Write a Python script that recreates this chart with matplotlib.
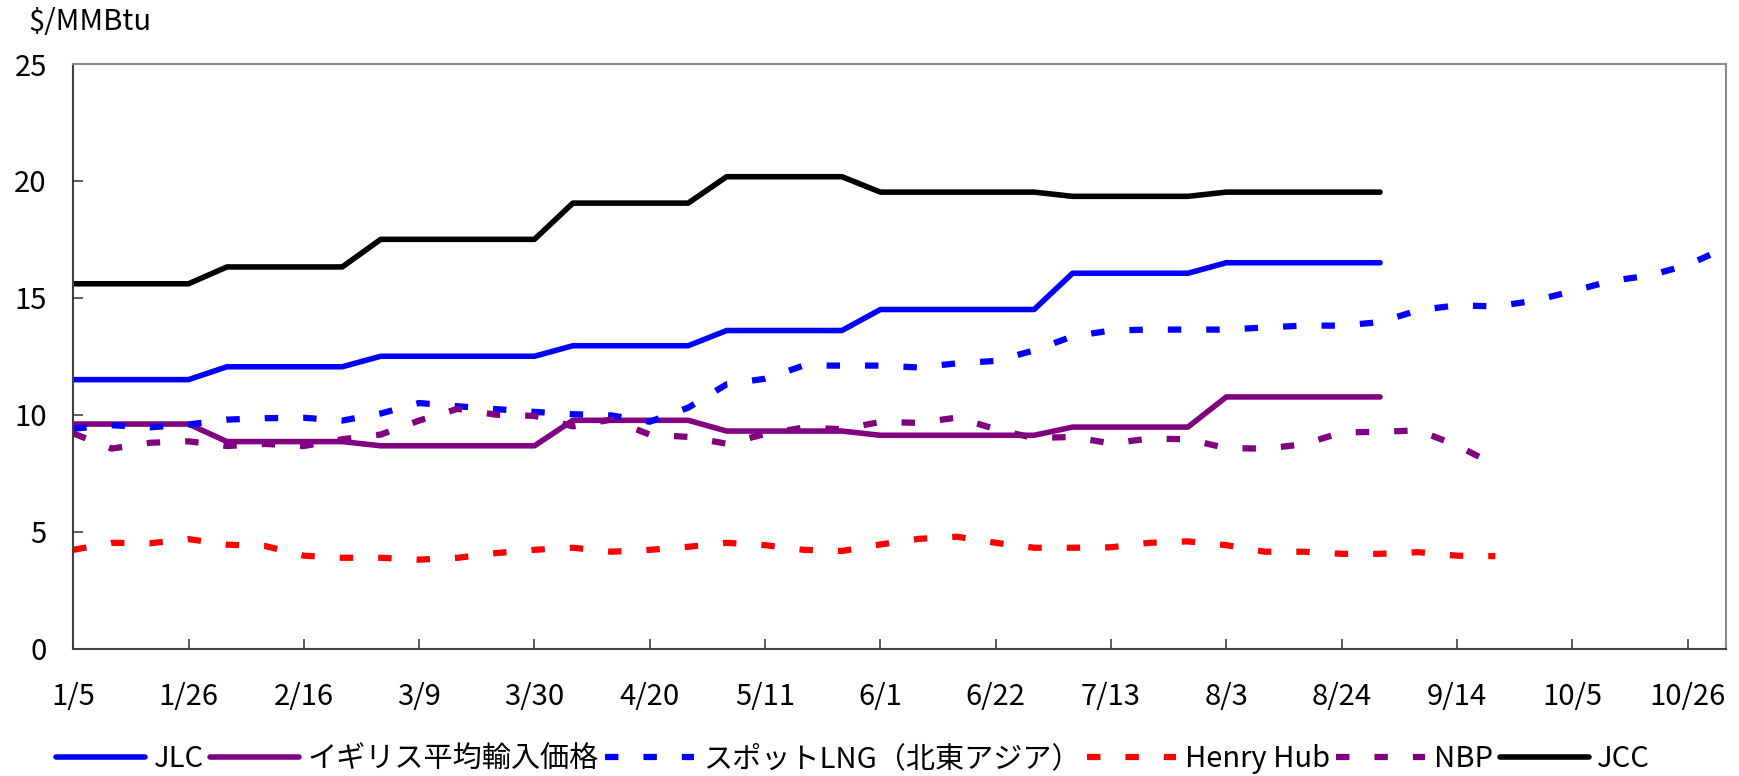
import matplotlib
matplotlib.use("Agg")
import numpy as np
import matplotlib.pyplot as plt

plt.rcParams['font.family'] = ['Noto Sans CJK JP', 'DejaVu Sans']

# x axis: weekly points from 1/5, labelled every 3 weeks
tick_labels = ["1/5", "1/26", "2/16", "3/9", "3/30", "4/20", "5/11", "6/1",
               "6/22", "7/13", "8/3", "8/24", "9/14", "10/5", "10/26"]
n_weeks = 44

# monthly-set prices (weekly points, 1/5 .. 8/31)
jlc = [11.5, 11.5, 11.5, 11.5,
       12.05, 12.05, 12.05, 12.05,
       12.5, 12.5, 12.5, 12.5, 12.5,
       12.95, 12.95, 12.95, 12.95,
       13.6, 13.6, 13.6, 13.6,
       14.5, 14.5, 14.5, 14.5, 14.5,
       16.05, 16.05, 16.05, 16.05,
       16.5, 16.5, 16.5, 16.5, 16.5]
uk_import = [9.6, 9.6, 9.6, 9.6,
             8.85, 8.85, 8.85, 8.85,
             8.67, 8.67, 8.67, 8.67, 8.67,
             9.76, 9.76, 9.76, 9.76,
             9.3, 9.3, 9.3, 9.3,
             9.12, 9.12, 9.12, 9.12, 9.12,
             9.47, 9.47, 9.47, 9.47,
             10.76, 10.76, 10.76, 10.76, 10.76]
jcc = [15.6, 15.6, 15.6, 15.6,
       16.32, 16.32, 16.32, 16.32,
       17.5, 17.5, 17.5, 17.5, 17.5,
       19.05, 19.05, 19.05, 19.05,
       20.18, 20.18, 20.18, 20.18,
       19.52, 19.52, 19.52, 19.52, 19.52,
       19.34, 19.34, 19.34, 19.34,
       19.52, 19.52, 19.52, 19.52, 19.52]

# weekly spot prices
spot_lng = [9.4, 9.55, 9.46, 9.58, 9.79, 9.85, 9.87, 9.75, 10.05, 10.5,
            10.36, 10.24, 10.12, 10.02, 9.97, 9.7, 10.3, 11.3, 11.54, 12.1,
            12.1, 12.1, 12.02, 12.2, 12.3, 12.75, 13.35, 13.6, 13.64, 13.64,
            13.64, 13.73, 13.81, 13.81, 13.96, 14.47, 14.68, 14.63, 14.87, 15.28,
            15.72, 15.95, 16.4, 17.15]
henry_hub = [4.22, 4.52, 4.5, 4.68, 4.44, 4.38, 3.97, 3.88, 3.88, 3.8,
             3.88, 4.08, 4.22, 4.31, 4.14, 4.22, 4.35, 4.52, 4.42, 4.22,
             4.17, 4.45, 4.69, 4.78, 4.52, 4.31, 4.31, 4.33, 4.52, 4.58,
             4.42, 4.14, 4.14, 4.05, 4.05, 4.12, 3.97, 3.95]
nbp = [9.2, 8.55, 8.8, 8.86, 8.66, 8.75, 8.66, 8.95, 9.15, 9.75,
       10.25, 10.0, 9.95, 9.5, 9.79, 9.15, 9.05, 8.76, 9.17, 9.45,
       9.38, 9.69, 9.65, 9.88, 9.38, 9.0, 9.05, 8.77, 8.98, 8.95,
       8.57, 8.55, 8.73, 9.24, 9.27, 9.33, 8.68, 7.85]

FS = 21
W, H = 1739, 776
fig = plt.figure(figsize=(W / 100, H / 100), dpi=100)
ax = fig.add_axes([73.2 / W, 1 - 648.5 / H, (1726 - 73.2) / W, (648.5 - 64) / H])

solid = dict(linewidth=4.0, solid_capstyle='round', solid_joinstyle='round')
dashed = dict(linewidth=4.5, dashes=(2.15, 4.0), dash_capstyle='butt')

series = [
    ("JLC", jlc, '#0000FF', solid),
    ("イギリス平均輸入価格", uk_import, '#800080', solid),
    ("スポットLNG（北東アジア）", spot_lng, '#0000FF', dashed),
    ("Henry Hub", henry_hub, '#FF0000', dashed),
    ("NBP", nbp, '#800080', dashed),
    ("JCC", jcc, '#000000', solid),
]
handles = []
for name, vals, col, style in series:
    ln, = ax.plot(np.arange(len(vals)), vals, color=col, label=name, **style)
    handles.append(ln)

ax.set_xlim(0, n_weeks - 1)
ax.set_ylim(0, 25)
ax.set_yticks(np.arange(0, 26, 5))
ax.set_xticks(np.arange(0, n_weeks, 3))
ax.set_xticklabels(tick_labels)

for side in ['left', 'bottom']:
    ax.spines[side].set_color('#404040')
    ax.spines[side].set_linewidth(1.5)
for side in ['top', 'right']:
    ax.spines[side].set_color('#8c8c8c')
    ax.spines[side].set_linewidth(1.5)

ax.tick_params(axis='both', direction='in', length=7, width=1.2,
               color='#404040', labelsize=FS)
ax.tick_params(axis='x', pad=24)
ax.tick_params(axis='y', pad=19)

fig.text(28 / W, 1 - 22 / H, r"\$/MMBtu", ha='left', va='center', fontsize=FS)

fig.legend(handles=handles, loc='center', bbox_to_anchor=(853 / W, 1 - 759 / H),
           ncol=6, frameon=False, fontsize=FS, handlelength=3.05,
           handletextpad=0.3, columnspacing=0.22, borderpad=0, borderaxespad=0)

fig.savefig("out.png", dpi=100)
